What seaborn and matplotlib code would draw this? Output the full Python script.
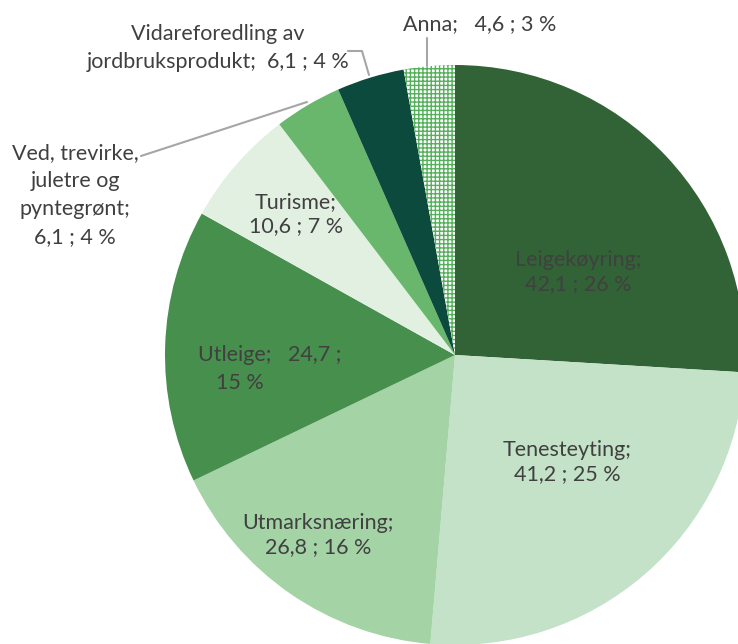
import matplotlib
matplotlib.use("Agg")
import matplotlib.pyplot as plt
import seaborn as sns

sns.set_theme(style="white")
plt.rcParams["font.family"] = ["Lato", "DejaVu Sans"]

# Næringar i tilleggsnæring, mill. kr og del av total
categories = ["Leigekøyring", "Tenesteyting", "Utmarksnæring", "Utleige",
              "Turisme", "Ved, trevirke, juletre og pyntegrønt",
              "Vidareforedling av jordbruksprodukt", "Anna"]
values = [42.1, 41.2, 26.8, 24.7, 10.6, 6.1, 6.1, 4.6]
percents = [26, 25, 16, 15, 7, 4, 4, 3]
colors = ["#326336", "#c4e2c7", "#a4d3a6", "#468f4d", "#e2f0e2",
          "#68b76d", "#0b4a3c", "#ffffff"]

def fmt(v):
    return f"{v:.1f}".replace(".", ",")

W, H = 738, 644
fig = plt.figure(figsize=(W / 100, H / 100), dpi=100)
ax = fig.add_axes([0, 0, 1, 1])

# pie drawn in pixel-like coordinates (y downwards => counterclock flips)
cx, cy, r = 455, 355, 290
wedges, _ = ax.pie(values, colors=colors, startangle=-90, counterclock=True,
                   center=(cx, cy), radius=r, frame=True,
                   wedgeprops=dict(linewidth=0))
ax.set_xlim(0, W)
ax.set_ylim(H, 0)
ax.axis("off")

# patterned slice for "Anna"
plt.rcParams["hatch.linewidth"] = 1.3
wedges[-1].set_hatch("++++")
wedges[-1].set_edgecolor("#55b05c")
wedges[-1].set_linewidth(0)

tc = "#404040"
fs = 15.5

def lab(x, y, s, ls=1.3):
    ax.text(x, y, s, ha="center", va="center", color=tc, fontsize=fs,
            linespacing=ls)

lab(578, 272, f"{categories[0]};\n{fmt(values[0])} ; {percents[0]} %")
lab(567, 462, f"{categories[1]};\n{fmt(values[1])} ; {percents[1]} %")
lab(318, 535, f"{categories[2]};\n{fmt(values[2])} ; {percents[2]} %")
lab(270, 355, f"{categories[3]};   {fmt(values[3])} ;")
lab(240, 383, f"{percents[3]} %")
lab(296, 214, f"{categories[4]};\n{fmt(values[4])} ; {percents[4]} %")
lab(75, 195, f"Ved, trevirke,\njuletre og\npyntegrønt;\n{fmt(values[5])} ; {percents[5]} %", ls=1.5)
lab(218, 48, f"Vidareforedling av\njordbruksprodukt;  {fmt(values[6])} ; {percents[6]} %", ls=1.5)
lab(480, 24, f"{categories[7]};   {fmt(values[7])} ; {percents[7]} %")

# leader lines
lc = "#a6a6a6"
ax.plot([141, 307], [156, 102], color=lc, lw=1.5)
ax.plot([348, 362, 369], [51, 51, 75], color=lc, lw=1.5)
ax.plot([427, 427], [38, 66], color=lc, lw=1.5)

fig.savefig("out.png", dpi=100)
